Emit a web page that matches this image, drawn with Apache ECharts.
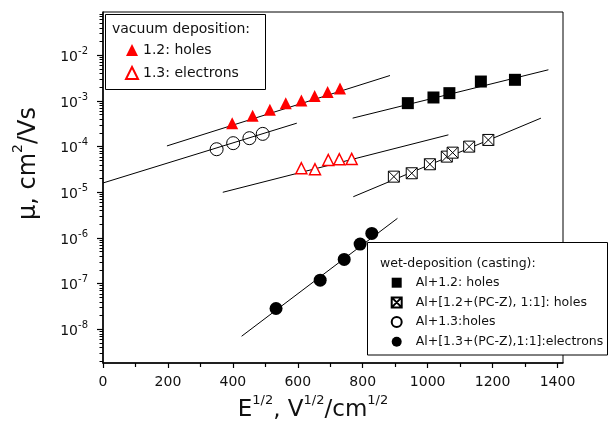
<!DOCTYPE html>
<html>
<head>
<meta charset="utf-8">
<script src="https://cdn.jsdelivr.net/npm/echarts@6/dist/echarts.min.js"></script>
<style>
  html, body { margin: 0; padding: 0; background: #fff; }
  #chart { width: 611px; height: 431px; }
</style>
</head>
<body>
<div id="chart"></div>
<script>
// Field strength E^1/2 (V^1/2/cm^1/2) and mobility mu (cm^2/Vs) for each sample.

// vacuum deposition
const fieldVacHoles = [398, 461, 514, 563, 611, 652, 692, 730];
const muVacHoles = [3.26e-4, 4.71e-4, 6.38e-4, 8.95e-4, 1.02e-3, 1.29e-3, 1.56e-3, 1.87e-3];

const fieldVacElectrons = [611, 653, 694, 728, 766];
const muVacElectrons = [3.36e-5, 3.19e-5, 5.1e-5, 5.3e-5, 5.37e-5];

// wet deposition (casting)
const fieldWetHoles12 = [939, 1018, 1067, 1164, 1269];
const muWetHoles12 = [8.95e-4, 1.19e-3, 1.48e-3, 2.66e-3, 2.90e-3];

const fieldWetHolesPCZ = [896, 951, 1007, 1059, 1077, 1128, 1187];
const muWetHolesPCZ = [2.2e-5, 2.61e-5, 4.11e-5, 6.04e-5, 7.38e-5, 1.0e-4, 1.40e-4];

const fieldWetHoles13 = [350, 401, 451, 492];
const muWetHoles13 = [8.77e-5, 1.19e-4, 1.53e-4, 1.90e-4];

const fieldWetElectrons = [533, 669, 743, 792, 828];
const muWetElectrons = [2.86e-8, 1.19e-7, 3.40e-7, 7.35e-7, 1.26e-6];

// straight-line fits (log mu vs E^1/2), given by their end points [E^1/2, mu]
const fitVacHoles = [[197, 1.035e-4], [884, 3.6e-3]];
const fitWetHoles13 = [[0, 1.6e-5], [597, 3.26e-4]];
const fitVacElectrons = [[369, 1.0e-5], [1064, 1.81e-4]];
const fitWetHoles12 = [[769, 4.2e-4], [1372, 4.81e-3]];
const fitWetHolesPCZ = [[771, 8.0e-6], [1349, 4.2e-4]];
const fitWetElectrons = [[427, 7.06e-9], [907, 2.69e-6]];

// axis ticks
const xMajorTicks = [0, 200, 400, 600, 800, 1000, 1200, 1400];
const xMinorTicks = [100, 300, 500, 700, 900, 1100, 1300];
const yDecades = [-8, -7, -6, -5, -4, -3, -2];   // exponents of the labelled decades

// names
const nameVacHoles = '1.2: holes';
const nameVacElectrons = '1.3: electrons';
const nameWetHoles12 = 'Al+1.2: holes';
const nameWetHolesPCZ = 'Al+[1.2+(PC-Z), 1:1]: holes';
const nameWetHoles13 = 'Al+1.3:holes';
const nameWetElectrons = 'Al+[1.3+(PC-Z),1:1]:electrons';

// axis ranges (mobility axis is in log10 units)
const X_MIN = 0, X_MAX = 1417;
const Y_MIN = -8.737, Y_MAX = -1.053;

const FONT = 'DejaVu Sans';
const INK = '#111';

const toLog = (xs, ys) => xs.map((x, i) => [x, Math.log10(ys[i])]);
const fitToLog = pts => pts.map(p => [p[0], Math.log10(p[1])]);

// log-scale minor ticks: 2..9 x 10^n
const yMinorTicks = [];
for (let n = -9; n <= -1; n++) {
  for (let k = 2; k <= 9; k++) {
    const v = n + Math.log10(k);
    if (v > Y_MIN && v < Y_MAX) yMinorTicks.push(v);
  }
}

const crossedSquare = 'path://M0,0L10,0L10,10L0,10Z M0,0L10,10 M10,0L0,10';

function fitSeries(pts) {
  return {
    type: 'line', data: fitToLog(pts), symbol: 'none', silent: true, z: 2,
    lineStyle: { color: '#000', width: 1, opacity: 1 }, xAxisIndex: 0, yAxisIndex: 0
  };
}

const chart = echarts.init(document.getElementById('chart'), null, { renderer: 'canvas' });

const option = {
  animation: false,
  backgroundColor: '#fff',
  textStyle: { fontFamily: FONT },
  grid: {
    left: 103, top: 12, right: 48, bottom: 68,
    show: true, borderColor: '#000', borderWidth: 1, backgroundColor: 'transparent',
    containLabel: false, outerBoundsMode: 'none'
  },
  xAxis: [{
    type: 'value', min: X_MIN, max: X_MAX, position: 'bottom',
    splitLine: { show: false },
    axisLine: { show: true, lineStyle: { color: '#000', width: 1.5 } },
    axisTick: { show: true, customValues: xMajorTicks, length: 5, lineStyle: { color: '#000', width: 1.2 } },
    axisLabel: {
      customValues: xMajorTicks, margin: 12, fontSize: 14, color: INK, fontFamily: FONT,
      formatter: v => String(Math.round(v))
    },
    name: '{m|E}{s|1/2}{m|, V}{s|1/2}{m|/cm}{s|1/2}',
    nameLocation: 'middle', nameGap: 31,
    nameTextStyle: {
      padding: [0, 40, 0, 0],
      rich: {
        m: { fontSize: 23, fontFamily: FONT, color: INK, lineHeight: 28, verticalAlign: 'bottom' },
        s: { fontSize: 13, fontFamily: FONT, color: INK, lineHeight: 13, verticalAlign: 'top' }
      }
    }
  }, {
    type: 'value', min: X_MIN, max: X_MAX, position: 'bottom',
    splitLine: { show: false },
    axisLine: { show: false },
    axisTick: { show: true, customValues: xMinorTicks, length: 4, lineStyle: { color: '#000', width: 1.2 } },
    axisLabel: { show: false }
  }],
  yAxis: [{
    type: 'value', min: Y_MIN, max: Y_MAX, position: 'left',
    splitLine: { show: false },
    axisLine: { show: true, lineStyle: { color: '#000', width: 1.5 } },
    axisTick: { show: true, customValues: yDecades, length: 6, lineStyle: { color: '#000', width: 1.2 } },
    axisLabel: {
      customValues: yDecades, margin: 15,
      formatter: v => '{b|10}{s|' + Math.round(v) + '}',
      rich: {
        b: { fontSize: 14, fontFamily: FONT, color: INK, lineHeight: 18, verticalAlign: 'bottom' },
        s: { fontSize: 10, fontFamily: FONT, color: INK, lineHeight: 10, verticalAlign: 'top' }
      }
    },
    name: '{m|μ, cm}{s|2}{m|/Vs}',
    nameLocation: 'middle', nameRotate: 90, nameGap: 62,
    nameTextStyle: {
      padding: [0, 0, 0, 48],
      rich: {
        m: { fontSize: 24, fontFamily: FONT, color: INK, lineHeight: 30, verticalAlign: 'bottom' },
        s: { fontSize: 14, fontFamily: FONT, color: INK, lineHeight: 14, verticalAlign: 'top' }
      }
    }
  }, {
    type: 'value', min: Y_MIN, max: Y_MAX, position: 'left',
    splitLine: { show: false },
    axisLine: { show: false },
    axisTick: { show: true, customValues: yMinorTicks, length: 3.5, lineStyle: { color: '#000', width: 1 } },
    axisLabel: { show: false }
  }],
  legend: [{
    data: [nameVacHoles, nameVacElectrons],
    orient: 'vertical', left: 120, top: 37, z: 20, padding: 5,
    itemWidth: 12, itemHeight: 12, itemGap: 7, selectedMode: false,
    textStyle: { fontSize: 14, fontFamily: FONT, color: INK, lineHeight: 16 }
  }, {
    data: [nameWetHoles12, nameWetHolesPCZ, nameWetHoles13, nameWetElectrons],
    orient: 'vertical', left: 385.7, top: 270.7, z: 20, padding: 5,
    itemWidth: 10, itemHeight: 10, itemGap: 5.7, selectedMode: false,
    textStyle: { fontSize: 12.5, fontFamily: FONT, color: INK, lineHeight: 14, padding: [0, 0, 0, 9] }
  }],
  graphic: [
    { type: 'rect', z: 10, shape: { x: 105.5, y: 14.5, width: 160, height: 75 },
      style: { fill: '#fff', stroke: '#000', lineWidth: 1 } },
    { type: 'text', z: 11, x: 112, y: 29,
      style: { text: 'vacuum deposition:', font: '14px "DejaVu Sans"', fill: INK, verticalAlign: 'middle' } },
    { type: 'rect', z: 10, shape: { x: 367.5, y: 242.5, width: 240, height: 112.5 },
      style: { fill: '#fff', stroke: '#000', lineWidth: 1 } },
    { type: 'text', z: 11, x: 380, y: 263.5,
      style: { text: 'wet-deposition (casting):', font: '12.5px "DejaVu Sans"', fill: INK, verticalAlign: 'middle' } }
  ],
  series: [
    fitSeries(fitVacHoles),
    fitSeries(fitWetHoles13),
    fitSeries(fitVacElectrons),
    fitSeries(fitWetHoles12),
    fitSeries(fitWetHolesPCZ),
    fitSeries(fitWetElectrons),
    {
      name: nameVacHoles, type: 'scatter', data: toLog(fieldVacHoles, muVacHoles),
      symbol: 'triangle', symbolSize: 12, z: 3,
      itemStyle: { color: '#ff0000', opacity: 1 }
    },
    {
      name: nameVacElectrons, type: 'scatter', data: toLog(fieldVacElectrons, muVacElectrons),
      symbol: 'triangle', symbolSize: 11, z: 3,
      itemStyle: { color: '#fff', borderColor: '#ff0000', borderWidth: 1.5, opacity: 1 }
    },
    {
      name: nameWetHoles12, type: 'scatter', data: toLog(fieldWetHoles12, muWetHoles12),
      symbol: 'rect', symbolSize: 12, z: 3,
      itemStyle: { color: '#000', opacity: 1 }
    },
    {
      name: nameWetHolesPCZ, type: 'scatter', data: toLog(fieldWetHolesPCZ, muWetHolesPCZ),
      symbol: crossedSquare, symbolSize: 11, z: 3,
      itemStyle: { color: '#fff', borderColor: '#000', borderWidth: 1, opacity: 1 }
    },
    {
      name: nameWetHoles13, type: 'scatter', data: toLog(fieldWetHoles13, muWetHoles13),
      symbol: 'circle', symbolSize: 13, z: 3,
      itemStyle: { color: 'rgba(255,255,255,0)', borderColor: '#000', borderWidth: 1, opacity: 1 }
    },
    {
      name: nameWetElectrons, type: 'scatter', data: toLog(fieldWetElectrons, muWetElectrons),
      symbol: 'circle', symbolSize: 13, z: 3,
      itemStyle: { color: '#000', opacity: 1 }
    }
  ]
};

chart.setOption(option);
</script>
</body>
</html>
